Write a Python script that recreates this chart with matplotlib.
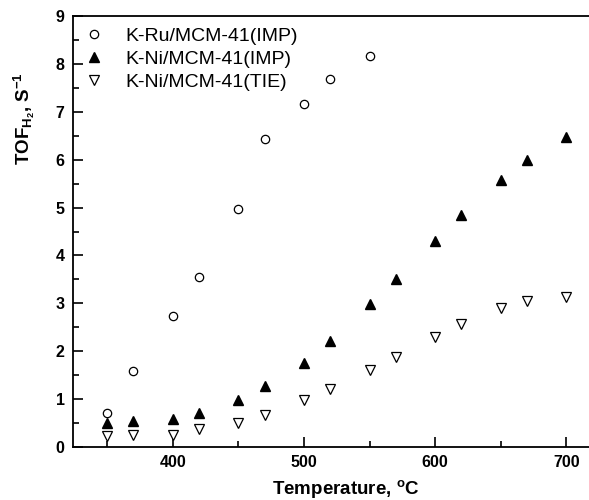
import numpy as np
import matplotlib
matplotlib.use('Agg')
import matplotlib.pyplot as plt
from matplotlib.ticker import MultipleLocator

plt.rcParams['font.family'] = ['Liberation Sans', 'DejaVu Sans']
plt.rcParams['mathtext.fontset'] = 'custom'
plt.rcParams['mathtext.rm'] = 'Liberation Sans:bold'
plt.rcParams['mathtext.it'] = 'Liberation Sans:bold'
plt.rcParams['mathtext.bf'] = 'Liberation Sans:bold'

# K-Ru/MCM-41(IMP)
ru_T = [350, 370, 400, 420, 450, 470, 500, 520, 550]
ru_tof = [0.72, 1.59, 2.74, 3.56, 4.96, 6.43, 7.16, 7.69, 8.16]

# K-Ni/MCM-41(IMP)
ni_imp_T = [350, 370, 400, 420, 450, 470, 500, 520, 550, 570, 600, 620, 650, 670, 700]
ni_imp_tof = [0.51, 0.55, 0.58, 0.72, 0.98, 1.28, 1.76, 2.21, 2.98, 3.5, 4.31, 4.84, 5.57, 5.99, 6.48]

# K-Ni/MCM-41(TIE)
ni_tie_T = [350, 370, 400, 420, 450, 470, 500, 520, 550, 570, 600, 620, 650, 670, 700]
ni_tie_tof = [0.23, 0.25, 0.25, 0.38, 0.51, 0.67, 0.98, 1.22, 1.6, 1.88, 2.3, 2.56, 2.91, 3.05, 3.14]

fig = plt.figure(figsize=(5.89, 5.0), dpi=100)
ax = fig.add_axes([73 / 589, 53 / 500, 400 * 1.312 / 589, 431 / 500])

ax.plot(ru_T, ru_tof, 'o', mfc='white', mec='black', ms=6, mew=0.9,
        label='K-Ru/MCM-41(IMP)')
ax.plot(ni_imp_T, ni_imp_tof, '^', color='black', ms=7.5,
        label='K-Ni/MCM-41(IMP)')
ax.plot(ni_tie_T, ni_tie_tof, 'v', mfc='white', mec='black', ms=7.5, mew=0.9,
        label='K-Ni/MCM-41(TIE)')

ax.set_xlim(324, 724)
ax.set_ylim(0, 9)
ax.xaxis.set_major_locator(MultipleLocator(100))
ax.xaxis.set_minor_locator(MultipleLocator(50))
ax.yaxis.set_major_locator(MultipleLocator(1))
ax.yaxis.set_minor_locator(MultipleLocator(0.5))
ax.tick_params(which='both', direction='in', width=1.2)
ax.tick_params(which='major', length=7, labelsize=11.5, pad=6)
ax.tick_params(which='minor', length=4)
ax.tick_params(top=False, right=False)
for lbl in ax.get_xticklabels() + ax.get_yticklabels():
    lbl.set_fontweight('bold')
for s in ax.spines.values():
    s.set_linewidth(1.3)

ax.set_xlabel('Temperature, $^{o}$C', fontsize=13.5, fontweight='bold')
ax.xaxis.set_label_coords(0.52, -0.072)
ax.set_ylabel('TOF$_{H_2}$, S$^{-1}$', fontsize=13.5, fontweight='bold')
ax.yaxis.set_label_coords(-0.068, 0.762)

ax.legend(loc='upper left', frameon=False, fontsize=14, handletextpad=1.1,
          borderaxespad=0.2, labelspacing=0.26, handlelength=1.0)

fig.savefig('out.png', dpi=100)
